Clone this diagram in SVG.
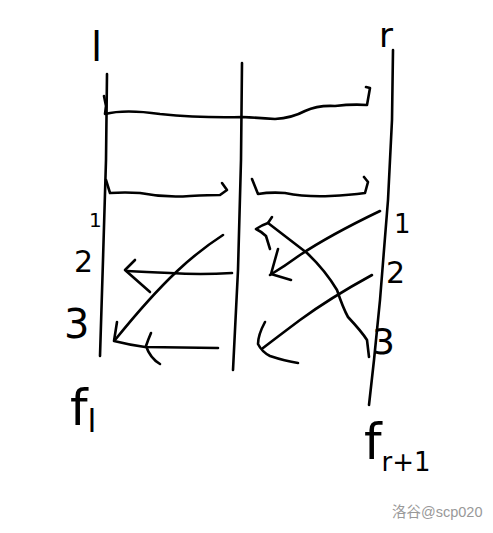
<svg xmlns="http://www.w3.org/2000/svg" width="493" height="533" viewBox="0 0 493 533">
<style>
.s{fill:none;stroke:#000;stroke-width:2.6;stroke-linecap:round;stroke-linejoin:round}
.t{font-family:"DejaVu Sans","Liberation Sans",sans-serif;fill:#000;font-weight:normal}
.w{font-family:"Liberation Sans","Noto Sans CJK SC",sans-serif;fill:#999;font-size:14.5px}
</style>
<rect width="493" height="533" fill="#fff"/>
<g id="columns">
<path class="s" d="M107,74 L106,160 L103,260 L100,356"/>
<path class="s" d="M242,63 L241,160 L238,270 L233,370"/>
<path class="s" d="M393,50 L392,120 L388,200 L380,300 L374,360 L369,405"/>
</g>
<g id="brackets">
<path class="s" d="M104,96 L106,106 L105,114 Q125,109 160,114 Q200,118 242,117 Q262,118 275,119 Q292,118 305,111 Q318,105 335,106 Q352,104 367,105 L370,88 L366,87"/>
<path class="s" d="M106,180 L110,193 Q125,192 140,193 Q165,198 190,196 Q210,195 220,195 L227,190 L222,183"/>
<path class="s" d="M252,179 L258,194 Q270,192 285,193 Q305,197 330,196 Q350,195 365,193 L368,182 L364,177"/>
</g>
<g id="connectors">
<path class="s" d="M232,273 Q200,275 170,273 Q145,272 127,271"/>
<path class="s" d="M135,260 L125,270 L150,292"/>
<path class="s" d="M223,235 C195,253 165,278 115,340"/>
<path class="s" d="M117,322 L114,341 Q130,345 145,347 L218,348"/>
<path class="s" d="M151,333 Q148,340 146,346 Q150,358 160,364"/>
<path class="s" d="M380,211 Q330,235 300,255 Q285,266 270,275"/>
<path class="s" d="M278,249 L271,274 L291,280"/>
<path class="s" d="M272,217 L268,223 Q262,225 256,229 Q262,232 266,236 L270,249"/>
<path class="s" d="M268,223 Q290,240 307,253 Q325,270 337,290 Q343,308 348,317 Q362,332 367,340 L369,357"/>
<path class="s" d="M372,275 Q330,298 300,320 Q280,335 263,348"/>
<path class="s" d="M265,322 Q258,335 258,344 Q262,352 270,356 Q285,361 298,363"/>
</g>
<g id="labels">
<text class="t" x="91" y="61" font-size="40">l</text>
<text class="t" x="379" y="47" font-size="34">r</text>
<text class="t" x="89" y="227" font-size="20">1</text>
<text class="t" x="74" y="272" font-size="30">2</text>
<text class="t" x="64" y="338" font-size="40">3</text>
<text class="t" x="394" y="233" font-size="26">1</text>
<text class="t" x="386" y="283" font-size="30">2</text>
<text class="t" x="372" y="354" font-size="36">3</text>
<text class="t" x="70" y="425" font-size="50">f<tspan font-size="32" dy="7">l</tspan></text>
<text class="t" x="364" y="459" font-size="50">f<tspan font-size="26" dy="12">r+1</tspan></text>
</g>
<text class="w" x="392" y="517">洛谷@scp020</text>
</svg>
